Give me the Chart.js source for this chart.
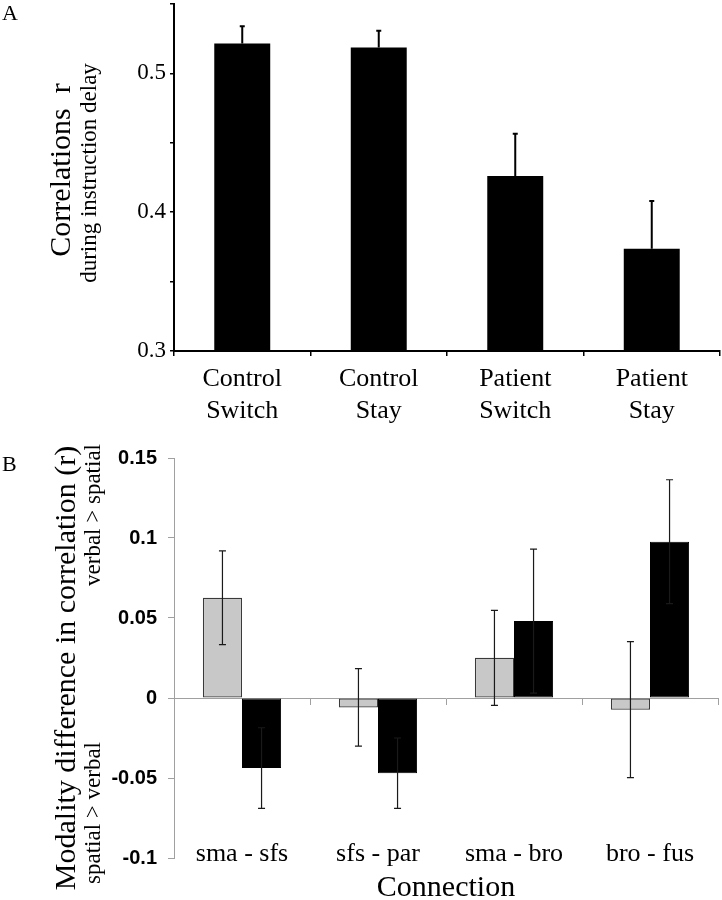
<!DOCTYPE html>
<html>
<head>
<meta charset="utf-8">
<script src="https://cdn.jsdelivr.net/npm/chart.js@4.4.0/dist/chart.umd.min.js"></script>
<style>
  html, body { margin: 0; padding: 0; background: #fff; }
  #wrap { position: relative; width: 722px; height: 900px; }
  #boxA { position: absolute; left: 0; top: 0; width: 722px; height: 440px; }
  #boxB { position: absolute; left: 0; top: 440px; width: 722px; height: 460px; }
</style>
</head>
<body>
<div id="wrap">
  <div id="boxA"><canvas id="chartA"></canvas></div>
  <div id="boxB"><canvas id="chartB"></canvas></div>
</div>
<script>
// panel A
const groupsA = [["Control", "Switch"], ["Control", "Stay"], ["Patient", "Switch"], ["Patient", "Stay"]];
const corrA = [0.5215, 0.5187, 0.4261, 0.3736];
const errA = [0.0124, 0.012, 0.0305, 0.0345];
const ticksA = ["0.3", "0.4", "0.5"];

// panel B
const connections = ["sma - sfs", "sfs - par", "sma - bro", "bro - fus"];
const grayB = [0.0627, -0.0059, 0.0251, -0.0073];
const grayErrB = [0.0293, 0.0242, 0.0297, 0.0425];
const blackB = [-0.0438, -0.047, 0.0481, 0.0977];
const blackErrB = [0.0252, 0.022, 0.045, 0.0387];
const ticksB = ["-0.1", "-0.05", "0", "0.05", "0.1", "0.15"];

const serif = "'Liberation Serif', 'Times New Roman', serif";
const sans = "'Liberation Sans', Arial, sans-serif";

function pickTick(list) {
  return (v) => {
    const hit = list.find(t => Math.abs(parseFloat(t) - v) < 1e-6);
    return hit === undefined ? "" : hit;
  };
}

// error bars drawn from the dataset's own "errors" array
const errorBars = {
  id: "errorBars",
  afterDatasetsDraw(chart, args, opts) {
    const ctx = chart.ctx;
    const y = chart.scales.y;
    chart.data.datasets.forEach((ds, i) => {
      const meta = chart.getDatasetMeta(i);
      ds.errors.forEach((e, j) => {
        const bar = meta.data[j];
        const v = ds.data[j];
        const top = y.getPixelForValue(v + e);
        const bot = opts.oneSided ? y.getPixelForValue(v) : y.getPixelForValue(v - e);
        ctx.save();
        ctx.strokeStyle = opts.color;
        ctx.lineWidth = opts.width;
        ctx.beginPath();
        ctx.moveTo(bar.x, top);
        ctx.lineTo(bar.x, bot);
        ctx.moveTo(bar.x - opts.cap, top);
        ctx.lineTo(bar.x + opts.cap, top);
        if (!opts.oneSided) {
          ctx.moveTo(bar.x - opts.cap, bot);
          ctx.lineTo(bar.x + opts.cap, bot);
        }
        ctx.stroke();
        ctx.restore();
      });
    });
  }
};

const sideText = {
  id: "sideText",
  afterDraw(chart, args, opts) {
    const ctx = chart.ctx;
    (opts.items || []).forEach(it => {
      ctx.save();
      ctx.font = it.font;
      ctx.fillStyle = "#000";
      ctx.textAlign = it.align || "center";
      ctx.textBaseline = "alphabetic";
      ctx.translate(it.x, it.y);
      if (it.rot) ctx.rotate(it.rot);
      ctx.fillText(it.text, 0, 0);
      ctx.restore();
    });
  }
};

function fixY(s) {
  s.width = 174;
  s.paddingTop = 0;
  s.paddingBottom = 0;
}

new Chart(document.getElementById("chartA"), {
  type: "bar",
  data: {
    labels: groupsA,
    datasets: [{
      data: corrA,
      errors: errA,
      backgroundColor: "#000",
      borderWidth: 0,
      categoryPercentage: 1,
      barPercentage: 0.41
    }]
  },
  options: {
    responsive: true,
    maintainAspectRatio: false,
    animation: false,
    layout: { padding: { top: 4, right: 2, left: 0, bottom: 0 } },
    plugins: {
      legend: { display: false },
      tooltip: { enabled: false },
      errorBars: { oneSided: true, color: "#000", width: 2, cap: 2.5 },
      sideText: {
        items: [
          { text: "A", font: "22px " + serif, x: 2, y: 20, align: "left" },
          { text: "Correlations  r", font: "30px " + serif, x: 70, y: 170, rot: -Math.PI / 2 },
          { text: "during instruction delay", font: "23px " + serif, x: 96, y: 173, rot: -Math.PI / 2 }
        ]
      }
    },
    scales: {
      x: {
        grid: { drawOnChartArea: false, offset: true, tickLength: 5, color: "#000", lineWidth: 1.5 },
        border: { color: "#000", width: 2 },
        ticks: { font: { family: serif, size: 26, lineHeight: 1.23 }, color: "#000", padding: 7, maxRotation: 0, autoSkip: false },
        afterFit(s) { s.height = 89; s.paddingLeft = 0; s.paddingRight = 0; }
      },
      y: {
        min: 0.3,
        max: 0.55,
        ticks: { stepSize: 0.05, callback: pickTick(ticksA), font: { family: serif, size: 23 }, color: "#000", padding: 4 },
        grid: { drawOnChartArea: false, tickLength: 4, color: "#000", lineWidth: 1.5 },
        border: { color: "#000", width: 2 },
        afterFit: fixY
      }
    }
  },
  plugins: [errorBars, sideText]
});

new Chart(document.getElementById("chartB"), {
  type: "bar",
  data: {
    labels: connections,
    datasets: [
      {
        data: grayB,
        errors: grayErrB,
        xAxisID: "x",
        yAxisID: "y",
        backgroundColor: "#c8c8c8",
        borderColor: "#3a3a3a",
        borderWidth: 1.2,
        borderSkipped: false,
        categoryPercentage: 0.575,
        barPercentage: 1
      },
      {
        data: blackB,
        errors: blackErrB,
        xAxisID: "x",
        yAxisID: "y",
        backgroundColor: "#000",
        borderColor: "#000",
        borderWidth: 1,
        borderSkipped: false,
        categoryPercentage: 0.575,
        barPercentage: 1
      }
    ]
  },
  options: {
    responsive: true,
    maintainAspectRatio: false,
    animation: false,
    layout: { padding: { top: 18, right: 4, left: 0, bottom: 0 } },
    plugins: {
      legend: { display: false },
      tooltip: { enabled: false },
      errorBars: { oneSided: false, color: "#1a1a1a", width: 1.2, cap: 3.5 },
      sideText: {
        items: [
          { text: "B", font: "22px " + serif, x: 2, y: 31, align: "left" },
          { text: "Modality difference in correlation (r)", font: "30px " + serif, x: 75, y: 228, rot: -Math.PI / 2 },
          { text: "verbal > spatial", font: "23px " + serif, x: 100, y: 75, rot: -Math.PI / 2 },
          { text: "spatial > verbal", font: "23px " + serif, x: 100, y: 373, rot: -Math.PI / 2 }
        ]
      }
    },
    scales: {
      x: {
        grid: { display: false, drawTicks: false },
        border: { display: false },
        ticks: { display: false },
        title: { display: true, text: "Connection", font: { family: serif, size: 30 }, color: "#000", padding: { top: 0, bottom: -6 } },
        afterFit(s) { s.height = 42; s.paddingLeft = 0; s.paddingRight = 0; }
      },
      x2: {
        type: "category",
        labels: connections,
        position: { y: 0 },
        offset: true,
        ticks: { font: { family: serif, size: 26 }, color: "#000", padding: 135, maxRotation: 0, autoSkip: false },
        grid: { drawOnChartArea: false, offset: true, tickLength: 6, color: "#a0a0a0" },
        border: { color: "#a0a0a0", width: 1 },
        afterFit(s) { s.paddingLeft = 0; s.paddingRight = 0; }
      },
      y: {
        min: -0.1,
        max: 0.15,
        ticks: { stepSize: 0.05, callback: pickTick(ticksB), font: { family: sans, size: 20, weight: "bold" }, color: "#000", padding: 11 },
        grid: { drawOnChartArea: false, tickLength: 6, color: "#a0a0a0" },
        border: { color: "#a0a0a0", width: 1 },
        afterFit: fixY
      }
    }
  },
  plugins: [errorBars, sideText]
});
</script>
</body>
</html>
